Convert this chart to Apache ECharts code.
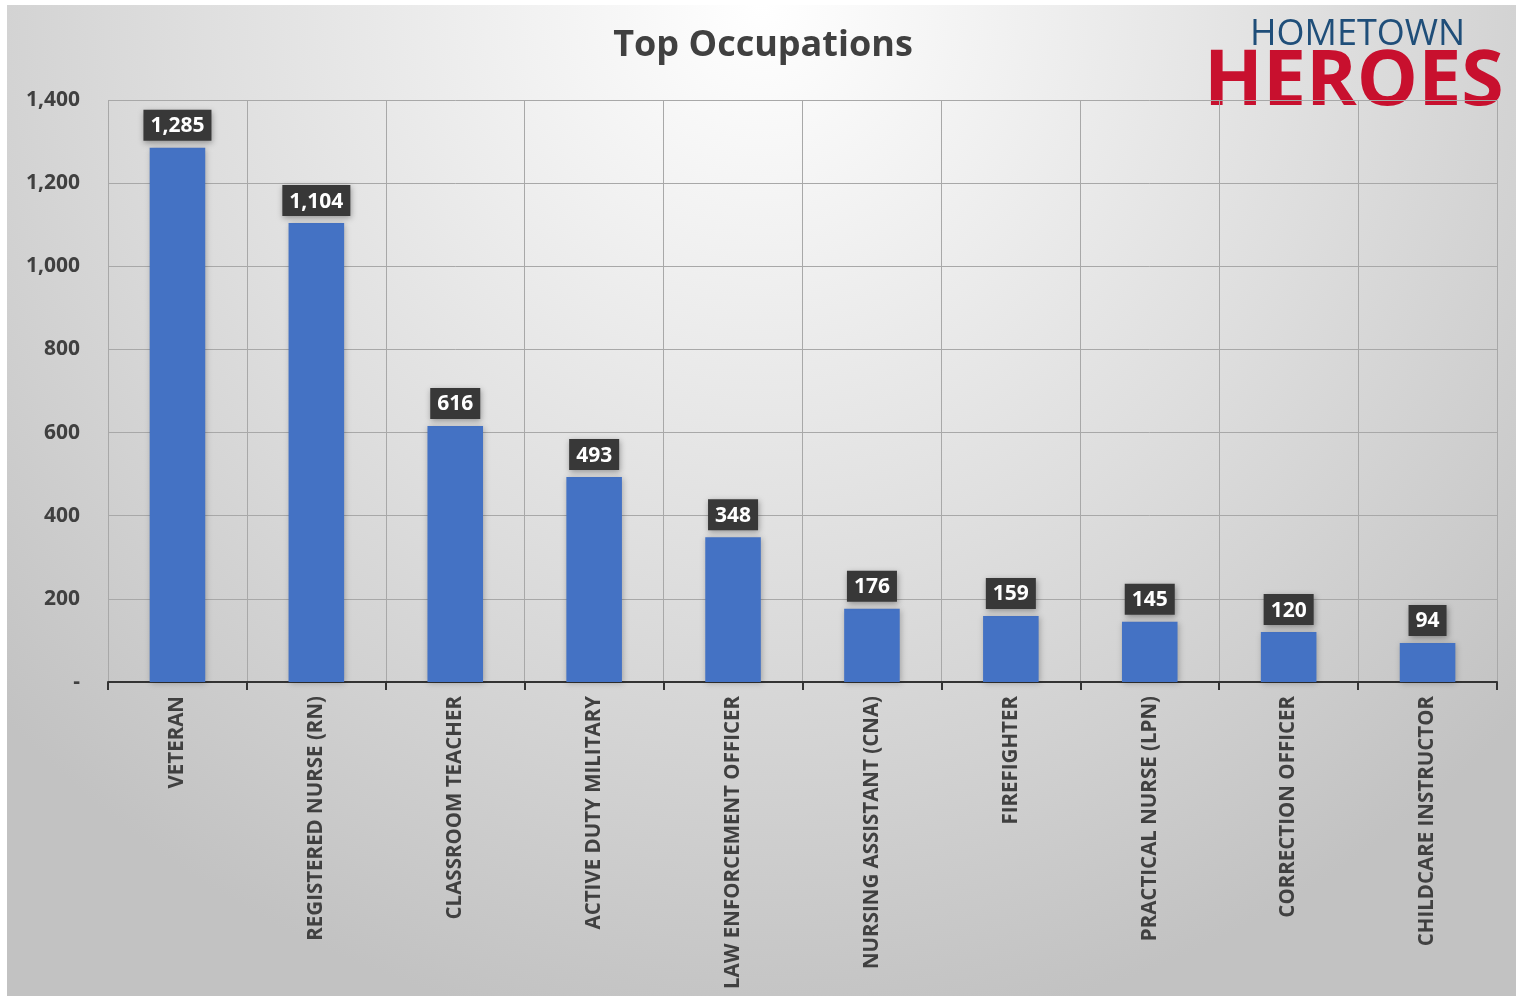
<!DOCTYPE html>
<html>
<head>
<meta charset="utf-8">
<script src="https://cdn.jsdelivr.net/npm/echarts@6/dist/echarts.min.js"></script>
<style>
  html, body { margin: 0; padding: 0; background: #fff; width: 1516px; height: 998px; overflow: hidden; }
  #chart-container { position: absolute; left: 7px; top: 5px; width: 1509px; height: 991px; }
</style>
</head>
<body>
<div id="chart-container"></div>
<script>
// --- Data ---
const occupations = [
    'VETERAN', 'REGISTERED NURSE (RN)', 'CLASSROOM TEACHER', 'ACTIVE DUTY MILITARY',
    'LAW ENFORCEMENT OFFICER', 'NURSING ASSISTANT (CNA)', 'FIREFIGHTER',
    'PRACTICAL NURSE (LPN)', 'CORRECTION OFFICER', 'CHILDCARE INSTRUCTOR'
];
const counts = [1285, 1104, 616, 493, 348, 176, 159, 145, 120, 94];
const yTicks = [0, 200, 400, 600, 800, 1000, 1200, 1400];

const fontFamily = '"Open Sans", Lato, sans-serif';

var myChart = echarts.init(document.getElementById('chart-container'));

function fmt(v) {
    return v === 0 ? '-' : v.toLocaleString('en-US');
}

const option = {
    backgroundColor: {
        type: 'radial', x: 0.5, y: 0, r: 1.05,
        colorStops: [
            { offset: 0, color: '#ffffff' },
            { offset: 0.55, color: '#dedede' },
            { offset: 1, color: '#c2c2c2' }
        ]
    },
    animation: false,
    title: {
        text: 'Top Occupations',
        left: 751, top: 18, textAlign: 'center',
        textStyle: { fontFamily: fontFamily, fontSize: 36, fontWeight: 'bold', color: '#404040' }
    },
    graphic: [
        { type: 'text', left: 1243, top: 12,
          style: { text: 'HOMETOWN', font: '36px "Open Sans", sans-serif', fill: '#1f4e79' } },
        { type: 'text', left: 1197, top: 40,
          style: { text: 'HEROES', font: 'bold 77px "Open Sans", sans-serif', fill: '#c8102e' } }
    ],
    grid: { left: 101, right: 19, top: 95, bottom: 314 },
    xAxis: {
        type: 'category',
        data: occupations,
        axisLine: { lineStyle: { color: '#333', width: 2 } },
        axisTick: { show: true, length: 8, lineStyle: { color: '#333', width: 2 } },
        splitLine: { show: true, lineStyle: { color: '#a8a8a8', width: 1 } },
        axisLabel: {
            interval: 0, rotate: 90, margin: 14,
            fontFamily: fontFamily, fontSize: 20.5, fontWeight: 'bold', color: '#404040'
        }
    },
    yAxis: {
        type: 'value',
        min: 0, max: 1400, interval: 200,
        axisLine: { show: false },
        axisTick: { show: false },
        splitLine: { lineStyle: { color: '#a8a8a8', width: 1 } },
        axisLabel: {
            margin: 28,
            fontFamily: fontFamily, fontSize: 21, fontWeight: 'bold', color: '#404040',
            formatter: fmt
        }
    },
    series: [{
        type: 'bar',
        data: counts,
        barWidth: '40%',
        itemStyle: {
            color: '#4472c4',
            shadowBlur: 6, shadowColor: 'rgba(0,0,0,0.25)', shadowOffsetX: 1, shadowOffsetY: 1
        },
        label: {
            show: true, position: 'top', distance: 7,
            formatter: p => fmt(p.value),
            fontFamily: fontFamily, fontSize: 21, fontWeight: 'bold', color: '#ffffff',
            backgroundColor: '#383838', padding: [6, 7, 4, 7],
            shadowBlur: 6, shadowColor: 'rgba(0,0,0,0.35)', shadowOffsetX: 1, shadowOffsetY: 2
        }
    }]
};

myChart.setOption(option);

window.addEventListener('resize', function() {
    myChart.resize();
});
</script>
</body>
</html>
